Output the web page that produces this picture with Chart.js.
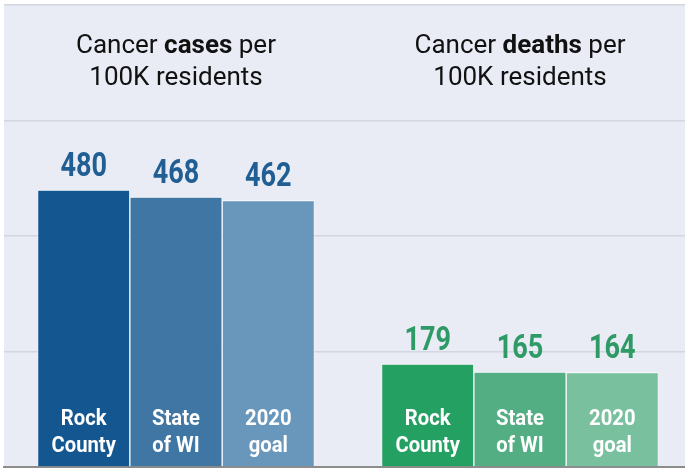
<!DOCTYPE html>
<html>
<head>
<meta charset="utf-8">
<script src="https://cdn.jsdelivr.net/npm/chart.js@4/dist/chart.umd.min.js"></script>
<style>
  html, body { margin: 0; padding: 0; background: #fff; overflow: hidden; }
  #wrap { width: 692px; height: 473px; }
</style>
</head>
<body>
<div id="wrap"><canvas id="chart" width="692" height="473"></canvas></div>
<script>
const groups = ['cases', 'deaths'];
const titleBold = ['cases', 'deaths'];
const rockCounty = [480, 179];
const stateWI = [468, 165];
const goal2020 = [462, 164];
const seriesNames = [['Rock', 'County'], ['State', 'of WI'], ['2020', 'goal']];
const yTicks = [0, 200, 400, 600, 800];

const barColors = [
  ['#14568f', '#25a063'],
  ['#3f76a3', '#54ae84'],
  ['#6996bb', '#79c09f']
];
const valueColors = ['#215e93', '#2e9a66'];

const bgPlugin = {
  id: 'plotBg',
  beforeDraw(chart) {
    const { ctx, chartArea: a } = chart;
    ctx.save();
    ctx.fillStyle = '#e9ecf5';
    ctx.fillRect(a.left, a.top, a.right - a.left, a.bottom - a.top);
    ctx.restore();
  }
};

// draw text squeezed horizontally (the original uses a condensed face)
const squeezed = (ctx, text, x, y, sx) => {
  ctx.save();
  ctx.translate(x, y);
  ctx.scale(sx, 1);
  ctx.fillText(text, 0, 0);
  ctx.restore();
};

const labelPlugin = {
  id: 'labels',
  afterDraw(chart) {
    const { ctx } = chart;
    const xs = chart.scales.x;
    const bottom = chart.chartArea.bottom;

    // group titles
    groups.forEach((g, i) => {
      const cx = xs.getPixelForValue(i);
      const parts = [
        ['Cancer ', '400 26px Roboto'],
        [titleBold[i], '700 26px Roboto'],
        [' per', '400 26px Roboto']
      ];
      ctx.save();
      ctx.fillStyle = '#111';
      ctx.textBaseline = 'alphabetic';
      ctx.textAlign = 'left';
      let w = 0;
      parts.forEach(([t, f]) => { ctx.font = f; w += ctx.measureText(t).width; });
      let x = cx - w / 2;
      parts.forEach(([t, f]) => { ctx.font = f; ctx.fillText(t, x, 53); x += ctx.measureText(t).width; });
      ctx.font = '400 26px Roboto';
      ctx.textAlign = 'center';
      ctx.fillText('100K residents', cx, 85);
      ctx.restore();
    });

    // values above bars and names inside bars
    chart.data.datasets.forEach((ds, di) => {
      const meta = chart.getDatasetMeta(di);
      meta.data.forEach((bar, i) => {
        ctx.save();
        ctx.textAlign = 'center';
        ctx.textBaseline = 'alphabetic';
        ctx.fillStyle = valueColors[i];
        ctx.font = '700 33px Roboto';
        squeezed(ctx, String(ds.data[i]), bar.x, bar.y - 14, 0.82);
        ctx.fillStyle = '#fff';
        ctx.font = '700 22px Roboto';
        squeezed(ctx, seriesNames[di][0], bar.x, bottom - 42, 0.92);
        squeezed(ctx, seriesNames[di][1], bar.x, bottom - 15, 0.92);
        ctx.restore();
      });
    });
  }
};

const makeSet = (name, data, di) => ({
  label: name.join(' '),
  data: data,
  backgroundColor: barColors[di],
  borderColor: '#ffffff',
  borderWidth: { top: 1, left: 0.7, right: 0.7, bottom: 0 },
  borderSkipped: false,
  categoryPercentage: 0.805,
  barPercentage: 1.0
});

new Chart(document.getElementById('chart').getContext('2d'), {
  type: 'bar',
  data: {
    labels: groups,
    datasets: [
      makeSet(seriesNames[0], rockCounty, 0),
      makeSet(seriesNames[1], stateWI, 1),
      makeSet(seriesNames[2], goal2020, 2)
    ]
  },
  options: {
    responsive: false,
    animation: false,
    layout: { padding: { left: 4, top: 5, right: 0, bottom: 6 } },
    plugins: { legend: { display: false }, tooltip: { enabled: false } },
    scales: {
      x: {
        grid: { display: false },
        ticks: { display: false },
        border: { display: true, color: '#8c8c8c', width: 2 },
        afterFit: (axis) => { axis.height = 0; }
      },
      y: {
        min: yTicks[0],
        max: yTicks[yTicks.length - 1],
        afterBuildTicks: (axis) => { axis.ticks = yTicks.map(v => ({ value: v })); },
        ticks: { display: false },
        grid: { color: '#d3d6df', lineWidth: 1.5, drawTicks: false },
        border: { display: false }
      }
    }
  },
  plugins: [bgPlugin, labelPlugin]
});
</script>
</body>
</html>
